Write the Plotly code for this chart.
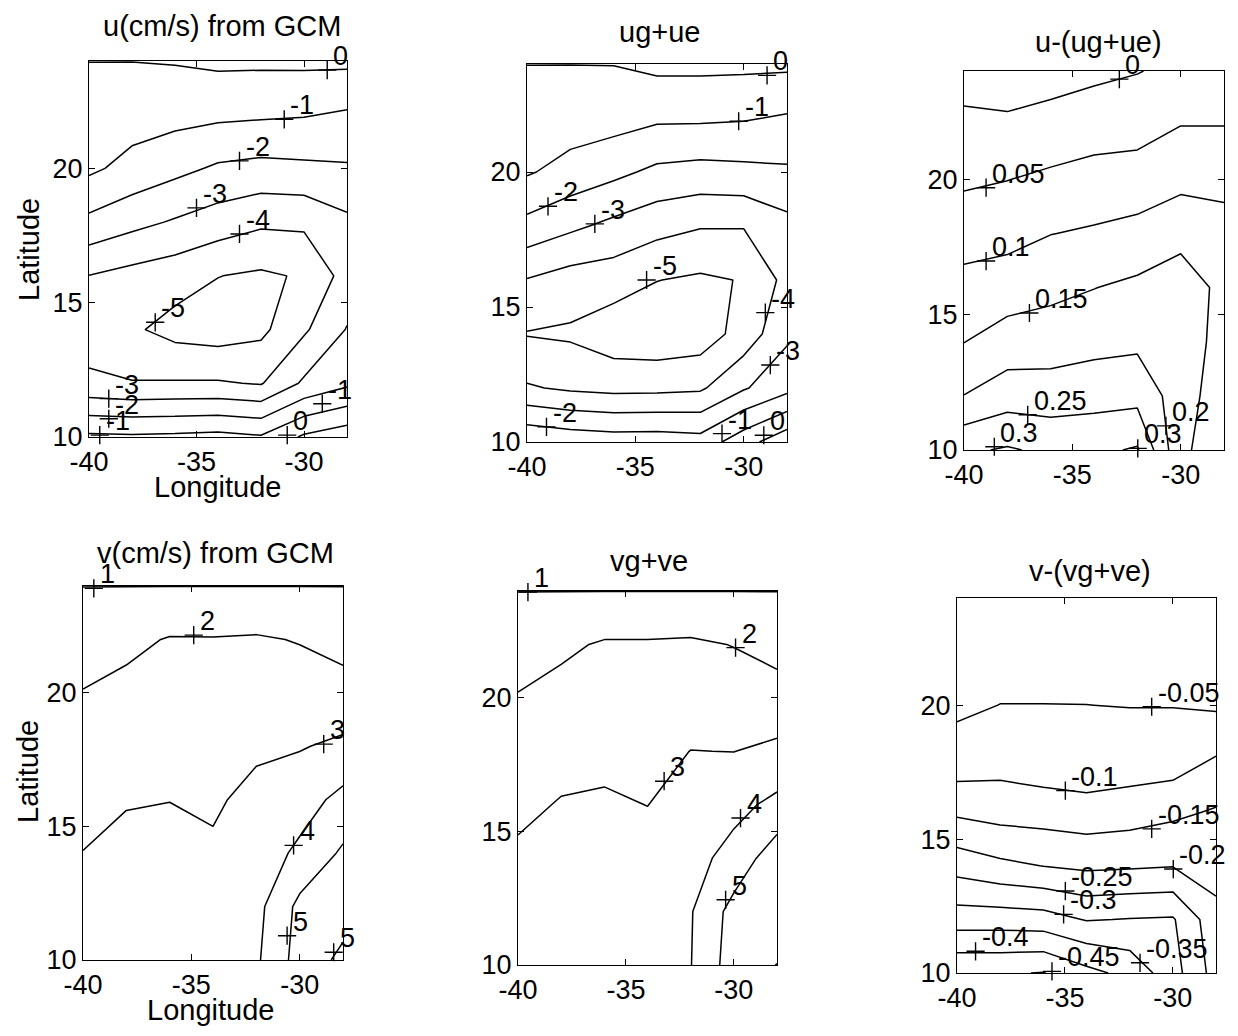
import plotly.graph_objects as go

# ---------------- data ----------------
lon = [-40, -38, -36, -34, -32, -30, -28]
lat = [10, 12, 14, 16, 18, 20, 22, 24]

# rows = lat (10 -> 24), cols = lon (-40 -> -28)
u_gcm = [
    [-0.80, -0.85, -0.80, -0.70, -0.90, 0.15, 0.62],
    [-3.80, -3.95, -3.92, -3.91, -4.07, -2.84, -2.20],
    [-4.50, -4.85, -5.34, -5.50, -5.23, -4.15, -2.95],
    [-4.02, -4.33, -4.57, -4.98, -5.15, -4.90, -3.60],
    [-2.24, -2.71, -3.10, -3.48, -3.83, -3.80, -3.20],
    [-0.81, -1.32, -1.73, -2.14, -2.29, -2.20, -2.11],
    [-0.40, -0.56, -0.68, -0.80, -0.87, -0.94, -1.12],
    [0.01, 0.01, 0.06, 0.19, 0.18, 0.20, 0.205],
]
u_geo_ek = [
    [-1.10, -1.35, -1.48, -1.46, -1.60, -0.40, 0.70],
    [-3.90, -4.15, -4.28, -4.26, -4.15, -3.10, -2.30],
    [-5.05, -5.15, -5.60, -5.70, -5.54, -4.60, -3.20],
    [-4.05, -4.43, -4.54, -4.98, -5.15, -4.95, -3.70],
    [-2.30, -2.80, -3.25, -3.66, -3.94, -3.95, -3.30],
    [-0.90, -1.36, -1.76, -2.21, -2.34, -2.25, -2.15],
    [-0.42, -0.50, -0.60, -0.84, -0.85, -0.92, -1.10],
    [0.01, 0.01, 0.02, 0.24, 0.24, 0.22, 0.20],
]
u_resid = [
    [0.292, 0.305, 0.290, 0.290, 0.305, 0.160, 0.120],
    [0.201, 0.226, 0.224, 0.231, 0.234, 0.175, 0.119],
    [0.149, 0.172, 0.176, 0.1845, 0.190, 0.175, 0.133],
    [0.116, 0.125, 0.137, 0.149, 0.160, 0.170, 0.140],
    [0.079, 0.084, 0.099, 0.106, 0.116, 0.138, 0.120],
    [0.042, 0.049, 0.059, 0.0675, 0.0706, 0.085, 0.085],
    [0.011, 0.010, 0.019, 0.0286, 0.0326, 0.0495, 0.0495],
    [-0.020, -0.030, -0.021, -0.011, -0.002, 0.012, 0.012],
]
v_gcm = [
    [3.35, 3.45, 3.45, 3.45, 3.85, 5.40, 4.85],
    [3.20, 3.35, 3.35, 3.30, 3.70, 5.25, 5.30],
    [3.016, 3.20, 3.20, 3.10, 3.45, 4.20, 5.15],
    [2.69, 2.95, 2.99, 2.90, 3.20, 3.56, 4.29],
    [2.36, 2.60, 2.67, 2.62, 2.88, 2.94, 3.18],
    [2.036, 2.25, 2.35, 2.35, 2.47, 2.45, 2.36],
    [1.53, 1.77, 2.06, 2.05, 2.10, 1.95, 1.66],
    [0.99, 0.99, 0.99, 0.99, 0.99, 0.99, 0.99],
]
v_geo_ek = [
    [3.45, 3.55, 3.65, 3.75, 3.97, 5.50, 4.98],
    [3.35, 3.45, 3.55, 3.60, 3.93, 5.35, 5.70],
    [3.16, 3.30, 3.40, 3.30, 3.65, 4.35, 5.60],
    [2.79, 3.06, 3.12, 2.99, 3.35, 3.71, 4.25],
    [2.42, 2.68, 2.76, 2.73, 3.01, 2.99, 3.20],
    [2.055, 2.30, 2.40, 2.45, 2.55, 2.49, 2.38],
    [1.54, 1.82, 2.10, 2.10, 2.15, 1.97, 1.67],
    [0.99, 0.99, 0.99, 0.99, 0.99, 0.99, 0.99],
]
v_resid = [
    [-0.445, -0.445, -0.452, -0.415, -0.385, -0.320, -0.230],
    [-0.326, -0.326, -0.3215, -0.297, -0.302, -0.305, -0.217],
    [-0.230, -0.211, -0.199, -0.190, -0.1935, -0.198, -0.178],
    [-0.142, -0.131, -0.128, -0.122, -0.128, -0.140, -0.155],
    [-0.069, -0.079, -0.068, -0.062, -0.070, -0.073, -0.103],
    [-0.0415, -0.0505, -0.0505, -0.0502, -0.049, -0.0488, -0.043],
    [-0.020, -0.030, -0.030, -0.030, -0.030, -0.030, -0.025],
    [-0.005, -0.010, -0.010, -0.010, -0.010, -0.010, -0.008],
]

# contour levels (start, end, step)
u_gcm_levels = (-5, 0, 1)
u_geo_ek_levels = (-5, 0, 1)
u_resid_levels = (0, 0.3001, 0.05)
v_gcm_levels = (1, 5, 1)
v_geo_ek_levels = (1, 5, 1)
v_resid_levels = (-0.45, -0.0499, 0.05)

# contour labels (clabel "+" positions and text)
u_gcm_lbl_x = [-28.92, -30.92, -33.0, -35.0, -33.0, -36.92, -39.08, -39.08, -39.5, -29.15, -30.78]
u_gcm_lbl_y = [23.66, 21.83, 20.28, 18.53, 17.56, 14.27, 11.43, 10.68, 10.07, 11.24, 10.07]
u_gcm_lbl_t = ["0", "-1", "-2", "-3", "-4", "-5", "-3", "-2", "-1", "-1", "0"]

u_geo_ek_lbl_x = [-28.92, -30.23, -39.03, -36.87, -34.48, -29.0, -28.77, -39.1, -31.0, -29.07]
u_geo_ek_lbl_y = [23.58, 21.88, 18.73, 18.08, 16.0, 14.79, 12.85, 10.56, 10.31, 10.25]
u_geo_ek_lbl_t = ["0", "-1", "-2", "-3", "-5", "-4", "-3", "-2", "-1", "0"]

u_resid_lbl_x = [-32.83, -38.98, -38.98, -36.98, -37.06, -38.6, -31.98, -30.68]
u_resid_lbl_y = [23.7, 19.69, 16.98, 15.06, 11.3, 10.12, 10.06, 10.89]
u_resid_lbl_t = ["0", "0.05", "0.1", "0.15", "0.25", "0.3", "0.3", "0.2"]

v_gcm_lbl_x = [-39.5, -34.89, -28.89, -30.28, -30.58, -28.43]
v_gcm_lbl_y = [23.91, 22.16, 18.08, 14.29, 10.91, 10.29]
v_gcm_lbl_t = ["1", "2", "3", "4", "5", "5"]

v_geo_ek_lbl_x = [-39.54, -29.92, -33.23, -29.69, -30.38, -28.15]
v_geo_ek_lbl_y = [23.96, 21.88, 16.88, 15.5, 12.44, 9.9]
v_geo_ek_lbl_t = ["1", "2", "3", "4", "5", "5"]

v_resid_lbl_x = [-30.98, -34.98, -30.98, -29.98, -34.98, -35.06, -39.14, -35.6, -31.52]
v_resid_lbl_y = [19.94, 16.81, 15.38, 13.88, 13.06, 12.19, 10.81, 10.06, 10.38]
v_resid_lbl_t = ["-0.05", "-0.1", "-0.15", "-0.2", "-0.25", "-0.3", "-0.4", "-0.45", "-0.35"]

x_tick_vals = [-40, -35, -30]
x_tick_text = ["-40", "-35", "-30"]
y_tick_vals = [10, 15, 20]
y_tick_text = ["10", "15", "20"]

panel_titles = ["u(cm/s) from GCM", "ug+ue", "u-(ug+ue)",
                "v(cm/s) from GCM", "vg+ve", "v-(vg+ve)"]

# ---------------- layout helpers ----------------
# page body has an 8 px margin, so the figure is drawn 8 px in from the window corner
OFF = 8
W, H = 1238 - 2 * OFF, 1036 - 2 * OFF
FONT = "Liberation Sans, Arial, Helvetica, sans-serif"


def fx(px):
    return (px - OFF) / W


def fy(py):
    return 1 - (py - OFF) / H


# window-pixel boxes of the six axes: (left, right, top, bottom)
boxes = [
    (89, 347, 61, 437),
    (527, 787, 64, 442),
    (964, 1224, 71, 450),
    (83, 343, 586, 960),
    (518, 777, 591, 965),
    (957, 1216, 598, 973),
]
# window-pixel centres of the panel titles
title_pos = [(222, 26), (659, 32), (1098, 42), (215, 553), (649, 561), (1090, 571)]

fields = [u_gcm, u_geo_ek, u_resid, v_gcm, v_geo_ek, v_resid]
levels = [u_gcm_levels, u_geo_ek_levels, u_resid_levels,
          v_gcm_levels, v_geo_ek_levels, v_resid_levels]
labels = [
    (u_gcm_lbl_x, u_gcm_lbl_y, u_gcm_lbl_t),
    (u_geo_ek_lbl_x, u_geo_ek_lbl_y, u_geo_ek_lbl_t),
    (u_resid_lbl_x, u_resid_lbl_y, u_resid_lbl_t),
    (v_gcm_lbl_x, v_gcm_lbl_y, v_gcm_lbl_t),
    (v_geo_ek_lbl_x, v_geo_ek_lbl_y, v_geo_ek_lbl_t),
    (v_resid_lbl_x, v_resid_lbl_y, v_resid_lbl_t),
]

fig = go.Figure()
annotations = []
layout_axes = {}

for i in range(6):
    n = "" if i == 0 else str(i + 1)
    xa, ya = "x" + n, "y" + n
    l, r, t, b = boxes[i]
    common = dict(
        ticks="inside", ticklen=6, tickcolor="black", tickwidth=1,
        showline=True, linecolor="black", linewidth=1.3, mirror="ticks",
        showgrid=False, zeroline=False, automargin=False,
        tickfont=dict(family=FONT, size=27, color="black"),
    )
    layout_axes["xaxis" + n] = dict(
        domain=[fx(l), fx(r)], anchor=ya, range=[-40, -28],
        tickvals=x_tick_vals, ticktext=x_tick_text, **common,
    )
    layout_axes["yaxis" + n] = dict(
        domain=[fy(b), fy(t)], anchor=xa, range=[10, 24],
        tickvals=y_tick_vals, ticktext=y_tick_text, **common,
    )
    s, e, st = levels[i]
    fig.add_trace(go.Contour(
        x=lon, y=lat, z=fields[i], xaxis=xa, yaxis=ya,
        contours=dict(start=s, end=e, size=st, coloring="none", showlabels=False),
        line=dict(color="black", width=1.5, smoothing=0),
        showscale=False, hoverinfo="skip",
    ))
    lx, ly, lt = labels[i]
    fig.add_trace(go.Scatter(
        x=lx, y=ly, mode="markers", xaxis=xa, yaxis=ya,
        marker=dict(symbol="cross-thin", size=13, color="black",
                    line=dict(color="black", width=1.4)),
        cliponaxis=False, showlegend=False, hoverinfo="skip",
    ))
    for xx, yy, tt in zip(lx, ly, lt):
        annotations.append(dict(
            x=xx, y=yy, xref=xa, yref=ya, text=tt, showarrow=False,
            xanchor="left", yanchor="middle", xshift=4, yshift=14,
            font=dict(family=FONT, size=27, color="black"),
        ))
    tx, ty = title_pos[i]
    annotations.append(dict(
        x=fx(tx), y=fy(ty), xref="paper", yref="paper",
        text=panel_titles[i], showarrow=False,
        xanchor="center", yanchor="middle",
        font=dict(family=FONT, size=29, color="black"),
    ))

# axis titles
for (px, py) in [(29, 250), (28, 772)]:
    annotations.append(dict(
        x=fx(px), y=fy(py), xref="paper", yref="paper", text="Latitude",
        textangle=-90, showarrow=False, xanchor="center", yanchor="middle",
        font=dict(family=FONT, size=29, color="black"),
    ))
for (px, py) in [(217, 487), (210, 1010)]:
    annotations.append(dict(
        x=fx(px), y=fy(py), xref="paper", yref="paper", text="Longitude",
        showarrow=False, xanchor="center", yanchor="middle",
        font=dict(family=FONT, size=29, color="black"),
    ))

fig.update_layout(
    template="none",
    width=W, height=H,
    margin=dict(l=0, r=0, t=0, b=0, pad=0),
    paper_bgcolor="white", plot_bgcolor="white",
    showlegend=False,
    annotations=annotations,
    **layout_axes,
)

fig.write_html("out.html")
